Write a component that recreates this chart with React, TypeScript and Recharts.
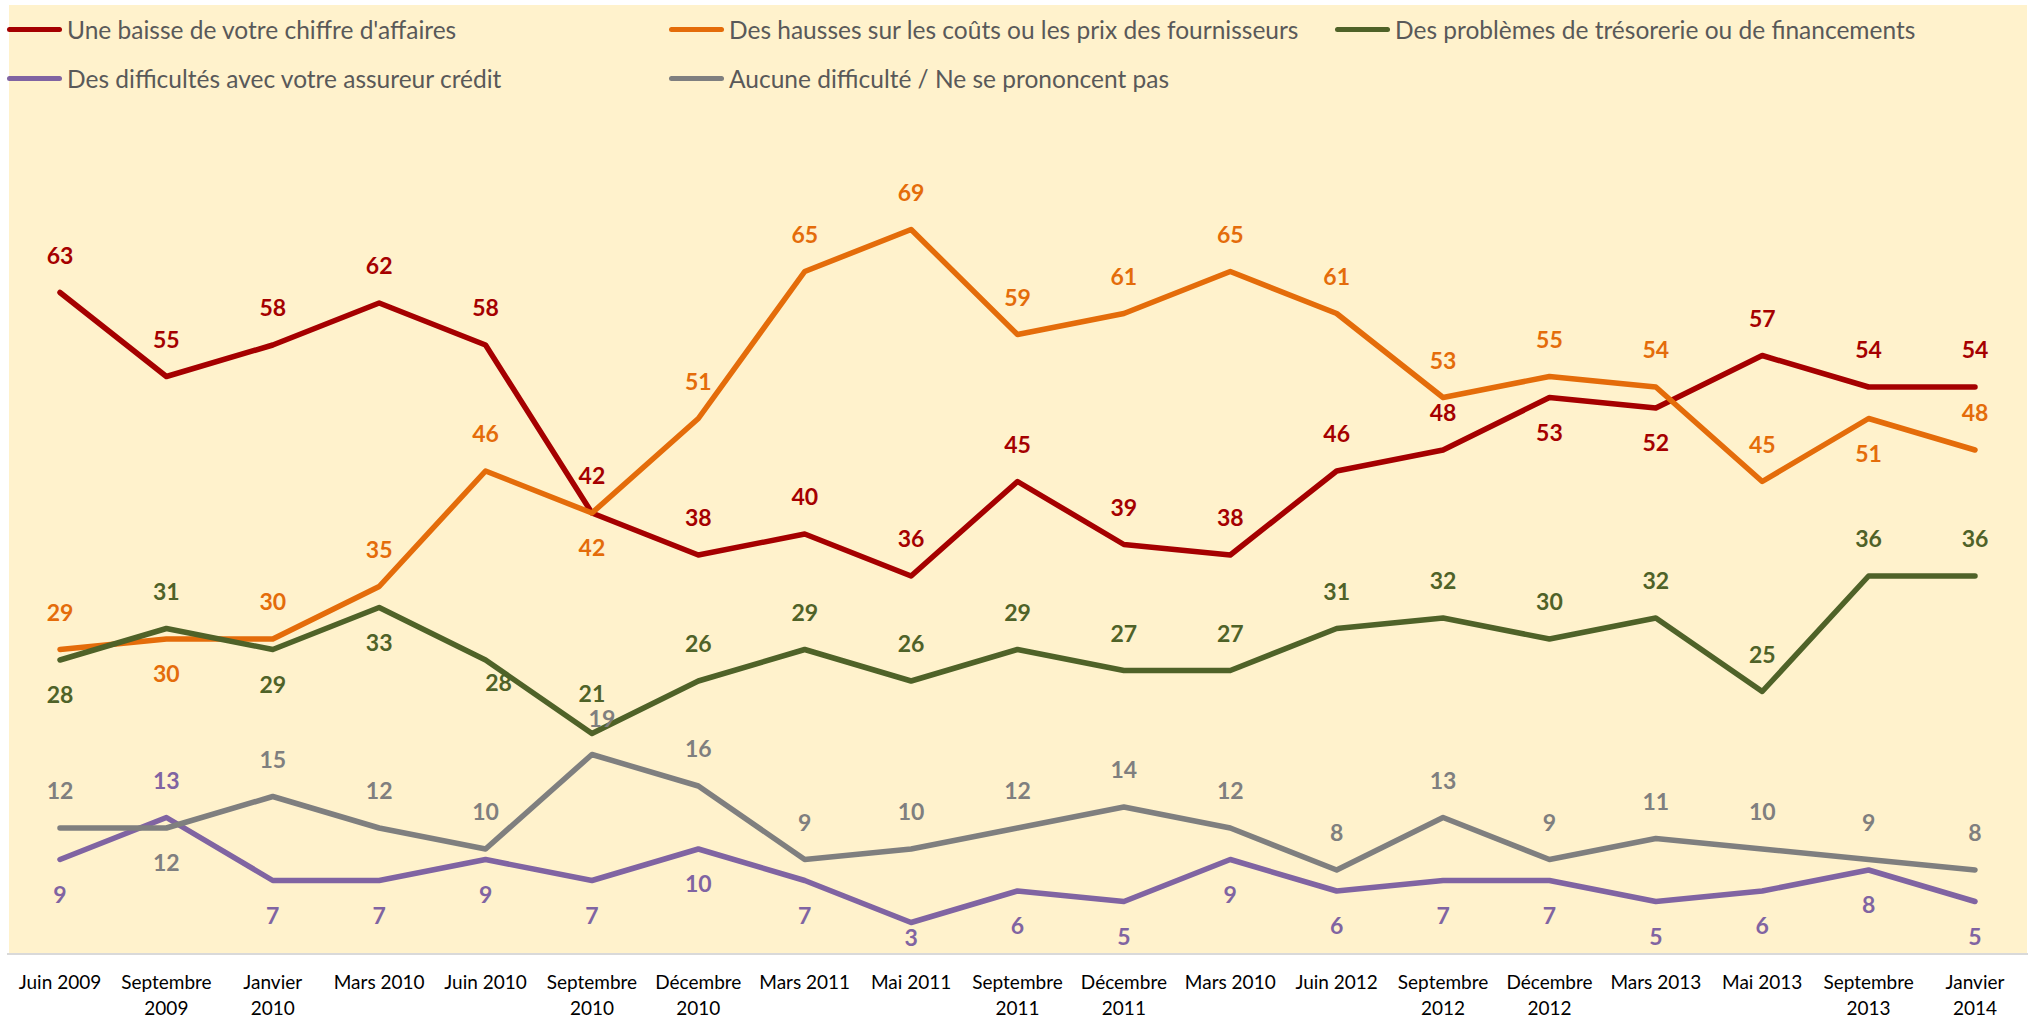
import React from 'react';
import { LineChart, Line, XAxis, YAxis, Legend, LabelList } from 'recharts';

const FONT = "Lato, 'Open Sans', sans-serif";

const periodes = [
  'Juin 2009', 'Septembre 2009', 'Janvier 2010', 'Mars 2010', 'Juin 2010', 'Septembre 2010',
  'Décembre 2010', 'Mars 2011', 'Mai 2011', 'Septembre 2011', 'Décembre 2011', 'Mars 2010',
  'Juin 2012', 'Septembre 2012', 'Décembre 2012', 'Mars 2013', 'Mai 2013', 'Septembre 2013', 'Janvier 2014',
];

const baisseCA = [63, 55, 58, 62, 58, 42, 38, 40, 36, 45, 39, 38, 46, 48, 53, 52, 57, 54, 54];
const hausseCouts = [29, 30, 30, 35, 46, 42, 51, 65, 69, 59, 61, 65, 61, 53, 55, 54, 45, 51, 48];
const tresorerie = [28, 31, 29, 33, 28, 21, 26, 29, 26, 29, 27, 27, 31, 32, 30, 32, 25, 36, 36];
const assureur = [9, 13, 7, 7, 9, 7, 10, 7, 3, 6, 5, 9, 6, 7, 7, 5, 6, 8, 5];
const aucune = [12, 12, 15, 12, 10, 19, 16, 9, 10, 12, 14, 12, 8, 13, 9, 11, 10, 9, 8];

// label placement per point: a = above, b = below
const posBaisse = 'aaaaaaaaaaaaaabbaaa';
const posHausse = 'abaaabaaaaaaaaaaaba';
const posTreso = 'babbbaaaaaaaaaaaaaa';
const posAssureur = 'babbbbbbbbbbbbbbbbb';
const posAucune = 'abaaaaaaaaaaaaaaaaa';

// hand-moved labels (dx, dy from the point)
const labelNudges: Record<string, [number, number]> = {
  'treso-4': [13, 22],
  'treso-5': [0, -41],
  'aucune-5': [10, -37],
};

const series = [
  { key: 'baisse', name: "Une baisse de votre chiffre d'affaires", values: baisseCA, color: '#A50000', pos: posBaisse },
  { key: 'hausse', name: 'Des hausses sur les coûts ou les prix des fournisseurs', values: hausseCouts, color: '#E46C0A', pos: posHausse },
  { key: 'treso', name: 'Des problèmes de trésorerie ou de financements', values: tresorerie, color: '#4F6228', pos: posTreso },
  { key: 'assureur', name: 'Des difficultés avec votre assureur crédit', values: assureur, color: '#8064A2', pos: posAssureur },
  { key: 'aucune', name: 'Aucune difficulté / Ne se prononcent pas', values: aucune, color: '#7F7F7F', pos: posAucune },
];

const data = periodes.map((p, i) => {
  const row: any = { periode: p };
  series.forEach((s) => { row[s.key] = s.values[i]; });
  return row;
});

const legendSlots = [
  { left: 7, top: 29 }, { left: 669, top: 29 }, { left: 1335, top: 29 },
  { left: 7, top: 78 }, { left: 669, top: 78 },
];

const renderLegend = () => (
  <div style={{ position: 'relative', width: 2031, height: 110 }}>
    {series.map((s, i) => (
      <div key={s.key} style={{ position: 'absolute', left: legendSlots[i].left, top: legendSlots[i].top - 16, height: 32, display: 'flex', alignItems: 'center', whiteSpace: 'nowrap' }}>
        <span style={{ display: 'inline-block', width: 55, height: 5, borderRadius: 3, background: s.color }} />
        <span style={{ marginLeft: 5, fontFamily: FONT, fontSize: 24.5, color: '#595959' }}>{s.name}</span>
      </div>
    ))}
  </div>
);

const makeLabel = (key: string, color: string, pos: string) => (props: any) => {
  const { x, y, value, index } = props;
  const nudge = labelNudges[`${key}-${index}`];
  let cx = x;
  let cy = pos[index] === 'b' ? y + 34 : y - 38;
  if (nudge) {
    cx = x + nudge[0];
    cy = y + nudge[1];
  }
  if (cy > 937) cy = 937;
  return (
    <text x={cx} y={cy} fill={color} textAnchor="middle" dominantBaseline="central"
      fontFamily={FONT} fontWeight={700} fontSize={23}>
      {value}
    </text>
  );
};

const PeriodTick = (props: any) => {
  const { x, y, payload } = props;
  const [mois, annee] = String(payload.value).split(' ');
  const lines = mois.length > 4 ? [mois, annee] : [payload.value];
  return (
    <text x={x} y={y} textAnchor="middle" fill="#000" fontFamily={FONT} fontSize={19}>
      {lines.map((l: string, i: number) => (
        <tspan key={i} x={x} dy={i === 0 ? 27 : 26}>{l}</tspan>
      ))}
    </text>
  );
};

export default function App() {
  return (
    <div style={{ position: 'absolute', left: 0, top: 0, width: 2031, height: 1020, background: '#fff' }}>
      <div style={{ position: 'absolute', left: 9, top: 5, width: 2018, height: 949, background: '#FFF2CC' }} />
      <div style={{ position: 'absolute', left: 0, top: 0 }}>
        <LineChart width={2031} height={1020} data={data} margin={{ top: 114, right: 3, bottom: 0, left: 7 }}>
          <XAxis dataKey="periode" height={66} padding={{ left: 53, right: 53 }} tickLine={false}
            axisLine={{ stroke: '#D9D9D9', strokeWidth: 2 }} tick={<PeriodTick />} interval={0} />
          <YAxis hide domain={[0, 80]} />
          <Legend layout="horizontal" verticalAlign="middle" align="center" content={renderLegend}
            wrapperStyle={{ position: 'absolute', top: 0, left: 0, width: 2031, height: 110 }} />
          {series.map((s) => (
            <Line key={s.key} type="linear" dataKey={s.key} name={s.name} stroke={s.color} strokeWidth={5.5}
              strokeLinecap="round" strokeLinejoin="round" dot={false} activeDot={false} isAnimationActive={false}>
              <LabelList dataKey={s.key} content={makeLabel(s.key, s.color, s.pos)} />
            </Line>
          ))}
        </LineChart>
      </div>
    </div>
  );
}
